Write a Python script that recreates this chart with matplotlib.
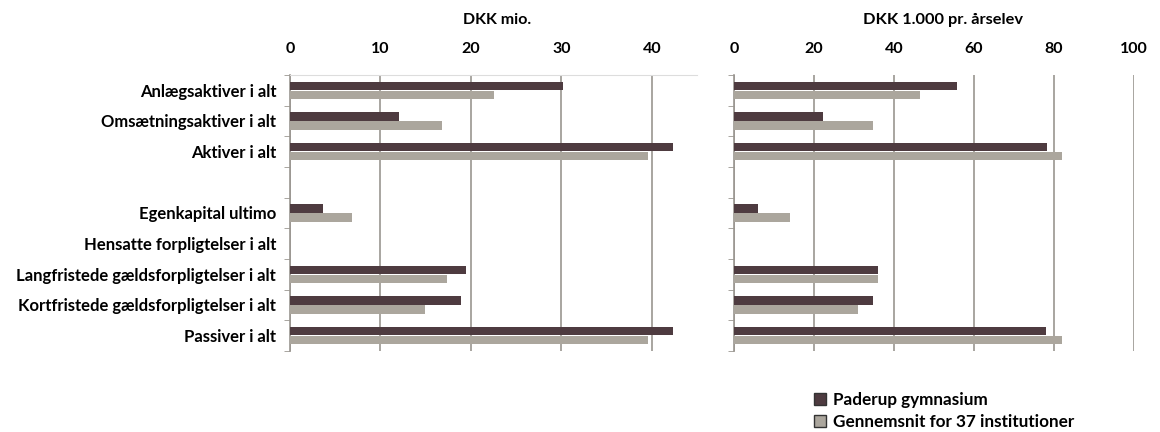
import matplotlib
matplotlib.use("Agg")
import matplotlib.pyplot as plt
from matplotlib.patches import Patch
import numpy as np

categories = ["Anlægsaktiver i alt", "Omsætningsaktiver i alt", "Aktiver i alt", "",
              "Egenkapital ultimo", "Hensatte forpligtelser i alt",
              "Langfristede gældsforpligtelser i alt", "Kortfristede gældsforpligtelser i alt",
              "Passiver i alt"]
paderup_mio = [30.2, 12.0, 42.4, 0, 3.6, 0, 19.5, 18.9, 42.3]
avg_mio = [22.5, 16.8, 39.6, 0, 6.9, 0, 17.4, 14.9, 39.6]
paderup_elev = [55.8, 22.2, 78.2, 0, 6.1, 0, 36.1, 34.8, 78.0]
avg_elev = [46.5, 34.8, 82.1, 0, 14.0, 0, 36.1, 30.9, 81.9]
ticks_mio = [0, 10, 20, 30, 40]
ticks_elev = [0, 20, 40, 60, 80, 100]
series_names = ["Paderup gymnasium", "Gennemsnit for 37 institutioner"]

dark = "#4e3b40"
gray = "#aba69d"
gridc = "#9a9690"
font = ["Lato", "DejaVu Sans"]
plt.rcParams["font.family"] = font

fig = plt.figure(figsize=(11.6, 4.32), dpi=100)
ax1 = fig.add_axes([290/1160, 1-351/432, 407/1160, 276/432])
ax2 = fig.add_axes([734/1160, 1-351/432, 400/1160, 276/432])

y = np.arange(len(categories))
h = 0.27
off = 0.15

def style(ax, xmax, ticks):
    ax.set_xlim(0, xmax)
    ax.set_ylim(len(categories) - 0.5, -0.5)
    ax.set_xticks(ticks)
    ax.xaxis.tick_top()
    ax.tick_params(axis="x", length=0, labelsize=11.5, pad=14)
    for lbl in ax.get_xticklabels():
        lbl.set_fontweight("bold")
    for t in ticks:
        ax.axvline(t, color=gridc, lw=1.2, zorder=0)
    for s in ["right", "bottom"]:
        ax.spines[s].set_visible(False)
    ax.spines["top"].set_color("#dddddd")
    ax.spines["left"].set_color(gridc)
    ax.spines["left"].set_linewidth(1.2)
    ax.set_yticks(np.arange(len(categories) + 1) - 0.5, minor=True)
    ax.tick_params(axis="y", which="minor", length=4, color=gridc, direction="out")

ax1.barh(y - off, paderup_mio, height=h, color=dark, zorder=3)
ax1.barh(y + off, avg_mio, height=h, color=gray, zorder=3)
style(ax1, 45, ticks_mio)
ax1.set_yticks(y)
ax1.set_yticklabels(categories, fontsize=12, fontweight="bold")
ax1.tick_params(axis="y", which="major", length=0, pad=10)

ax2.barh(y - off, paderup_elev, height=h, color=dark, zorder=3)
ax2.barh(y + off, avg_elev, height=h, color=gray, zorder=3)
style(ax2, 100, ticks_elev)
ax2.set_yticks([])
ax2.spines["top"].set_visible(False)

fig.text(497/1160, 1-20/432, "DKK mio.", ha="center", va="center", fontsize=11.5, fontweight="bold")
fig.text(943/1160, 1-20/432, "DKK 1.000 pr. årselev", ha="center", va="center", fontsize=11.8, fontweight="bold")

handles = [Patch(facecolor=dark, edgecolor="#333333"), Patch(facecolor=gray, edgecolor="#333333")]
leg = fig.legend(handles, series_names, loc="upper left", bbox_to_anchor=(814/1160, 1-392/432),
                 frameon=False, prop={"family": font, "weight": "bold", "size": 12.3},
                 handlelength=0.7, handleheight=0.7, handletextpad=0.4, labelspacing=0.35,
                 borderpad=0, borderaxespad=0)

fig.savefig("out.png", dpi=100, facecolor="white")
